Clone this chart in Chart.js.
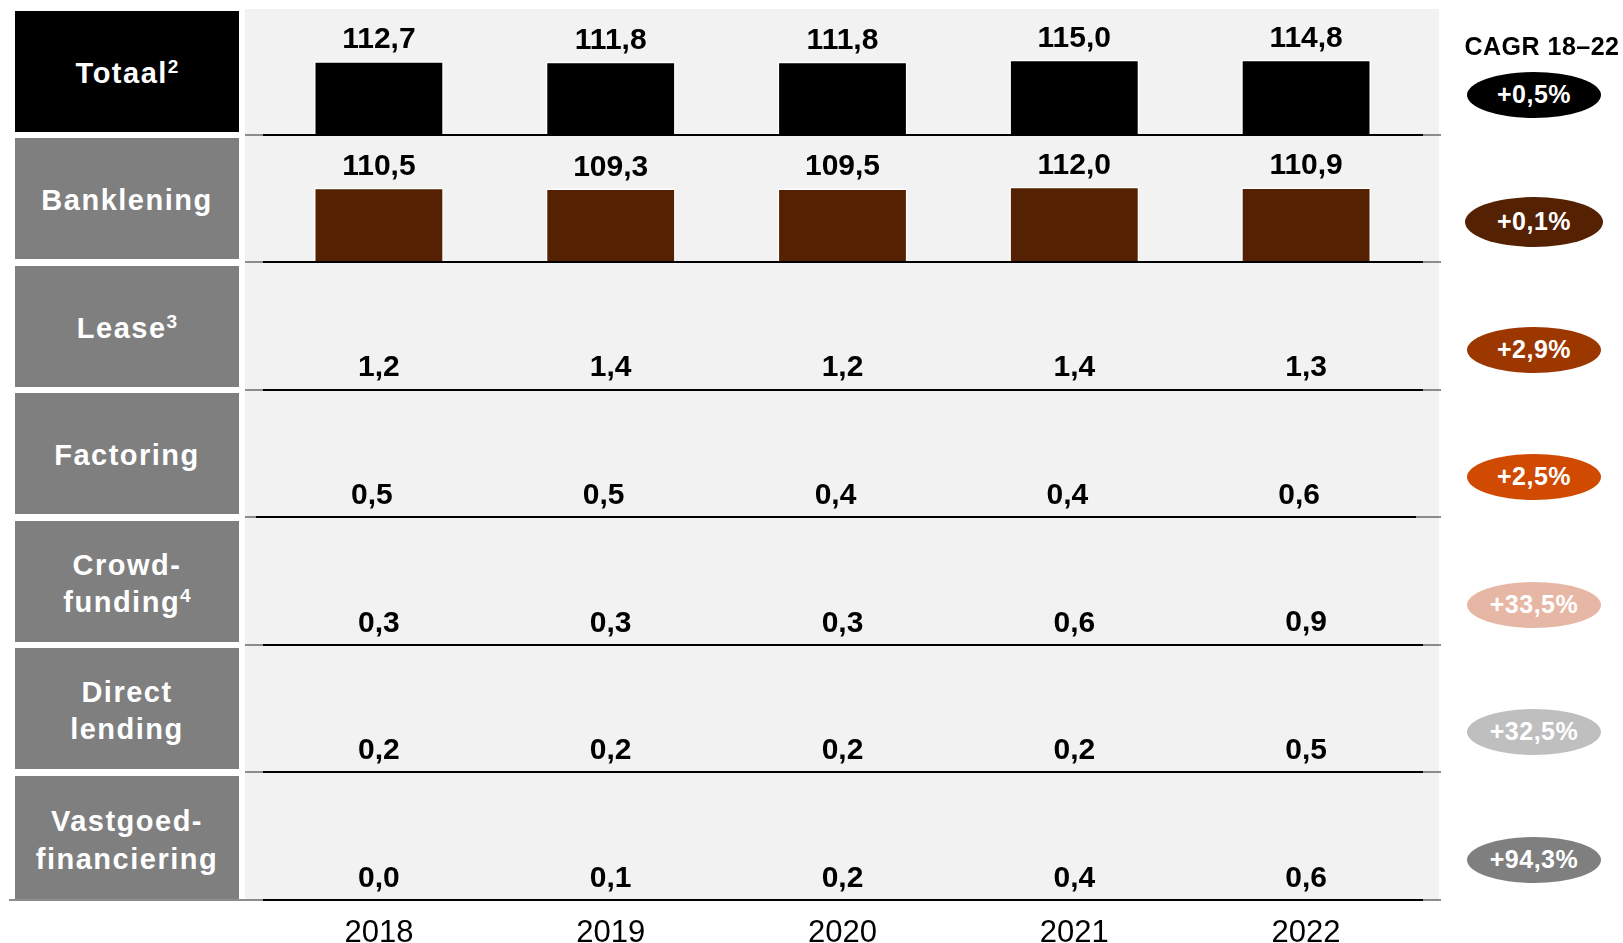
<!DOCTYPE html>
<html>
<head>
<meta charset="utf-8">
<script src="https://cdn.jsdelivr.net/npm/chart.js@4.4.1/dist/chart.umd.min.js"></script>
<style>
  html, body { margin: 0; padding: 0; background: #fff; overflow: hidden; }
  #stage { position: relative; width: 1623px; height: 943px; font-family: "Liberation Sans", Arial, Helvetica, sans-serif; }
  .panel { position: absolute; left: 245px; top: 9px; width: 1194px; height: 891px; background: #f2f2f2; }
  .rowlabel { position: absolute; left: 15px; width: 224px; box-sizing: border-box; padding-top: 5px;
              display: flex; align-items: center; justify-content: center;
              text-align: center; color: #fff; font-weight: bold; font-size: 29px; letter-spacing: 1.5px; line-height: 37.5px; background: #7f7f7f; }
  .rowlabel sup { font-size: 19px; line-height: 0; vertical-align: baseline; position: relative; top: -10px; letter-spacing: 0; }
  .pill { position: absolute; border-radius: 50%; display: flex; align-items: center; justify-content: center;
          color: #fff; font-weight: bold; font-size: 25px; letter-spacing: 0.5px; line-height: 1; }
  .cagr-title { position: absolute; left: 1442px; width: 200px; top: 34px; text-align: center; font-weight: bold;
                font-size: 25px; line-height: 25px; letter-spacing: 0.5px; color: #000; white-space: nowrap; }
  canvas.row { position: absolute; left: 0; }
</style>
</head>
<body>
<div id="stage">
  <div class="panel"></div>
</div>
<script>
// Years on the category axis
const years = ['2018', '2019', '2020', '2021', '2022'];

// Financing volume per type (bn EUR)
const totaal        = [112.7, 111.8, 111.8, 115.0, 114.8];
const banklening    = [110.5, 109.3, 109.5, 112.0, 110.9];
const lease         = [1.2, 1.4, 1.2, 1.4, 1.3];
const factoring     = [0.5, 0.5, 0.4, 0.4, 0.6];
const crowdfunding  = [0.3, 0.3, 0.3, 0.6, 0.9];
const directLending = [0.2, 0.2, 0.2, 0.2, 0.5];
const vastgoed      = [0.0, 0.1, 0.2, 0.4, 0.6];

// Row captions (line breaks and footnote markers)
const rowNames = ['Totaal', 'Banklening', 'Lease', 'Factoring', 'Crowd-\nfunding', 'Direct\nlending', 'Vastgoed-\nfinanciering'];
const rowNotes = ['2', '', '3', '', '4', '', ''];

// Growth 2018–2022
const cagrTitle = 'CAGR 18–22';
const cagrLabels = ['+0,5%', '+0,1%', '+2,9%', '+2,5%', '+33,5%', '+32,5%', '+94,3%'];

// Upper end of each row's value axis
const rowMax = [194, 189, 192, 192, 192, 192, 192];

const series = [totaal, banklening, lease, factoring, crowdfunding, directLending, vastgoed];
const rowColors = ['#000000', '#552103', '#9c3700', '#d04a02', '#e6b7a5', '#bfbfbf', '#7f7f7f'];
const boxColors = ['#000000', '#7f7f7f', '#7f7f7f', '#7f7f7f', '#7f7f7f', '#7f7f7f', '#7f7f7f'];

const stage = document.getElementById('stage');
const FONT = '"Liberation Sans", Arial, Helvetica, sans-serif';
const ROW_H = 127;           // plot height of one row
const fmt = v => v.toFixed(1).replace('.', ',');

// Baseline and value labels for each row
const rowDecor = {
  id: 'rowDecor',
  afterDatasetsDraw(chart, args, opts) {
    const ctx = chart.ctx;
    const a = chart.chartArea;
    ctx.save();
    ctx.lineWidth = 2;
    ctx.strokeStyle = '#8c8c8c';
    ctx.beginPath();
    ctx.moveTo(opts.grayStart, a.bottom);
    ctx.lineTo(1441, a.bottom);
    ctx.stroke();
    ctx.strokeStyle = '#000';
    ctx.beginPath();
    ctx.moveTo(a.left, a.bottom);
    ctx.lineTo(a.right + 1, a.bottom);
    ctx.stroke();

    ctx.fillStyle = '#000';
    ctx.font = 'bold 30px ' + FONT;
    ctx.textAlign = 'center';
    ctx.textBaseline = 'alphabetic';
    const meta = chart.getDatasetMeta(0);
    const data = chart.data.datasets[0].data;
    meta.data.forEach((bar, k) => {
      ctx.fillText(fmt(data[k]), bar.x, bar.y - 13);
    });
    ctx.restore();
  }
};

series.forEach((values, i) => {
  const base = Math.round(134.8 + 127.5 * i);
  const last = i === series.length - 1;

  // caption box
  const box = document.createElement('div');
  box.className = 'rowlabel';
  const top = base - 124;
  const bottom = last ? base : base - 3;
  box.style.top = top + 'px';
  box.style.height = (bottom - top) + 'px';
  box.style.background = boxColors[i];
  const inner = document.createElement('div');
  const lines = rowNames[i].split('\n');
  inner.innerHTML = lines.map((ln, j) => ln + (j === lines.length - 1 && rowNotes[i] ? '<sup>' + rowNotes[i] + '</sup>' : '')).join('<br>');
  box.appendChild(inner);
  stage.appendChild(box);

  // growth pill
  const pill = document.createElement('div');
  pill.className = 'pill';
  const pw = i === 1 ? 138 : 134, ph = i === 1 ? 50 : 46;
  pill.style.width = pw + 'px';
  pill.style.height = ph + 'px';
  pill.style.left = (1534 - pw / 2) + 'px';
  pill.style.top = (base - 40.5 - ph / 2) + 'px';
  pill.style.background = rowColors[i];
  pill.textContent = cagrLabels[i];
  stage.appendChild(pill);

  // bar chart of the row
  const h = last ? 943 - (base - ROW_H) : ROW_H + 4;
  const shift = i === 3 ? -7 : 0;
  const cv = document.createElement('canvas');
  cv.className = 'row';
  cv.width = 1623;
  cv.height = h;
  cv.style.width = '1623px';
  cv.style.height = h + 'px';
  cv.style.top = (base - ROW_H) + 'px';
  stage.appendChild(cv);

  new Chart(cv, {
    type: 'bar',
    data: {
      labels: years,
      datasets: [{
        data: values,
        backgroundColor: rowColors[i],
        borderColor: '#ffffff',
        borderWidth: 1.5,
        borderSkipped: 'start',
        barPercentage: 0.56,
        categoryPercentage: 1
      }]
    },
    options: {
      responsive: false,
      animation: false,
      devicePixelRatio: 1,
      layout: { padding: { left: 263 + shift, right: 201 - shift, top: 0, bottom: 0 } },
      plugins: {
        legend: { display: false },
        tooltip: { enabled: false },
        rowDecor: { grayStart: last ? 9 : 245 }
      },
      scales: {
        x: {
          display: true,
          grid: { display: false, drawTicks: false },
          border: { display: false },
          ticks: { display: last, color: '#000', padding: 15, maxRotation: 0, font: { family: FONT, size: 31 } },
          afterFit(scale) { scale.height = h - ROW_H; }
        },
        y: { display: false, min: 0, max: rowMax[i] }
      }
    },
    plugins: [rowDecor]
  });
});

const title = document.createElement('div');
title.className = 'cagr-title';
title.textContent = cagrTitle;
stage.appendChild(title);
</script>
</body>
</html>
